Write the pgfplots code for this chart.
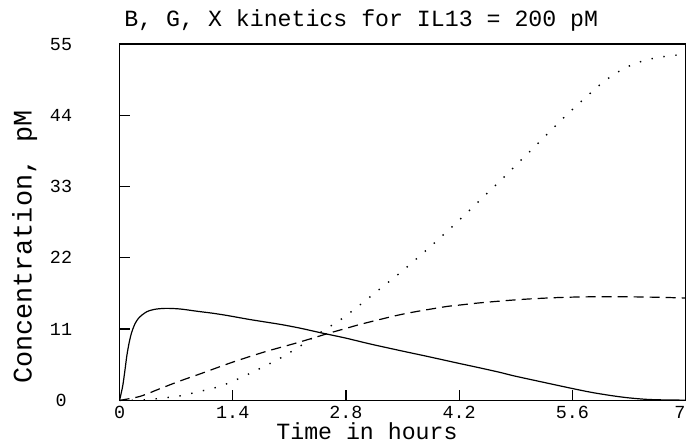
\documentclass[border=0pt]{standalone}
\usepackage{fontspec}
\setmainfont{Liberation Mono}
\usepackage{pgfplots}
\pgfplotsset{compat=1.18}

\begin{document}
\begin{tikzpicture}
\begin{axis}[
    width=282.75pt, height=178pt,
    scale only axis,
    clip=false,
    xmin=0, xmax=7, ymin=0, ymax=55,
    xtick={0,1.4,2.8,4.2,5.6,7},
    ytick={0,11,22,33,44,55},
    xticklabels={0,1.4,2.8,4.2,5.6,\llap{7}},
    yticklabels={0,11,22,33,44,55},
    tick pos=left,
    tick align=inside,
    major tick length=5pt,
    axis line style={line width=0.8pt},
    every tick/.style={line width=0.6pt, black},
    ticklabel style={font=\fontsize{9.2}{10}\selectfont, inner sep=1pt},
    xticklabel style={anchor=center, yshift=-5.9pt},
    yticklabel style={anchor=center, xshift=-29.25pt},
]
\addplot[black, line width=0.6pt, smooth] coordinates {
(0,0) (0.02,1.1) (0.04,2.3) (0.065,4.5) (0.09,6.9) (0.12,9.0) (0.15,10.5)
(0.19,11.8) (0.23,12.6) (0.28,13.2) (0.34,13.7) (0.4,13.95) (0.46,14.1)
(0.58,14.2) (0.75,14.1) (0.96,13.75) (1.15,13.45) (1.33,13.1) (1.6,12.5)
(1.8,12.1) (2.0,11.7) (2.23,11.15) (2.5,10.4) (2.8,9.6) (3.1,8.7) (3.5,7.6)
(3.8,6.8) (4.2,5.7) (4.46,5.0) (4.71,4.3) (4.87,3.8) (5.2,2.9) (5.61,1.8)
(5.85,1.2) (6.11,0.68) (6.3,0.38) (6.52,0.15) (6.75,0.06) (7.0,0.03)
};
\addplot[black, line width=0.6pt, smooth, dash pattern=on 5pt off 3pt] coordinates {
(0,0) (0.25,0.6) (0.5,1.8) (0.75,3.0) (1.0,4.1) (1.4,5.9) (1.8,7.5)
(2.2,8.9) (2.6,10.4) (2.8,11.1) (3.0,11.8) (3.5,13.3) (4.0,14.4) (4.2,14.7)
(4.5,15.1) (5.0,15.6) (5.5,15.9) (6.0,16.0) (6.5,15.95) (7.0,15.8)
};
\addplot[black, line width=0.7pt, smooth, dash pattern=on 0.7pt off 5.3pt] coordinates {
(0,0) (0.25,0.05) (0.5,0.3) (0.75,0.7) (1.0,1.4) (1.25,2.2) (1.5,3.5)
(1.75,5.0) (2.0,6.6) (2.25,8.5) (2.5,10.6) (2.75,12.6) (3.0,15.0) (3.25,17.5)
(3.5,20.0) (3.75,22.7) (4.0,25.5) (4.25,28.4) (4.5,31.4) (4.75,34.4) (5.0,37.5)
(5.25,40.6) (5.5,43.7) (5.75,46.6) (6.0,49.3) (6.25,51.3) (6.5,52.5) (6.75,53.1)
(7.0,53.4)
};
\node[anchor=base, inner sep=0pt, font=\fontsize{11.6}{13}\selectfont] at (axis cs:2.99,57.65)
    {B, G, X kinetics for IL13 = 200 pM};
\node[anchor=base, inner sep=0pt, font=\fontsize{11.6}{13}\selectfont] at (axis cs:3.06,-6.0)
    {Time in hours};
\node[anchor=base, rotate=90, inner sep=0pt, font=\fontsize{13.4}{15}\selectfont] at (axis cs:-1.087,23.65)
    {Concentration, pM};
\coordinate (bbl) at (axis cs:-1.479,-6.66);
\coordinate (btr) at (axis cs:7.006,61.8);
\end{axis}
\pgfresetboundingbox
\useasboundingbox (bbl) rectangle (btr);
\end{tikzpicture}
\end{document}
